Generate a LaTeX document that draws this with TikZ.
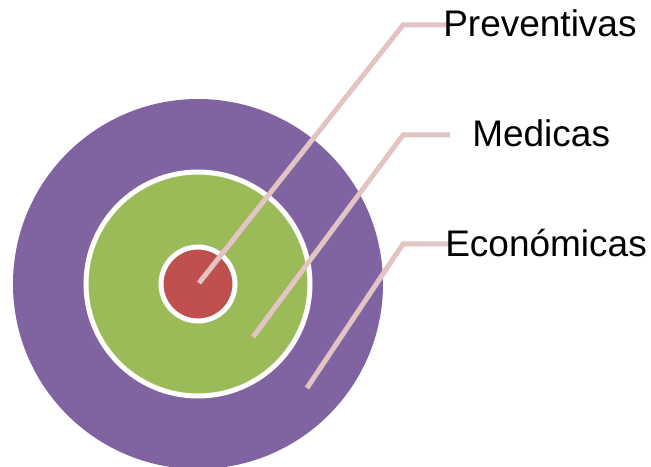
\documentclass[tikz,border=0pt]{standalone}
\usepackage{fontspec}
\setmainfont{Liberation Sans}
\definecolor{ringpurple}{RGB}{128,100,162}
\definecolor{ringgreen}{RGB}{155,187,89}
\definecolor{ringred}{RGB}{192,80,77}
\definecolor{leadpink}{RGB}{226,196,196}

\begin{document}
\begin{tikzpicture}[x=0.75pt, y=-0.75pt,
  ring/.style={circle, inner sep=0pt, draw=white, line width=3.75pt},
  leader/.style={draw=leadpink, line width=3.75pt},
  ringlabel/.style={anchor=base west, inner sep=0pt, font=\fontsize{27.75}{33}\selectfont}]
  \useasboundingbox (0,0) rectangle (651,467);
  \node[ring, fill=ringpurple, draw=none, minimum size=277.5pt] (outer) at (198,284) {};
  \node[ring, fill=ringgreen, minimum size=168pt] (middle) at (198,284) {};
  \node[ring, fill=ringred, minimum size=55.5pt] (inner) at (198,284) {};
  \foreach \n/\t/\sx/\sy/\ky/\tx/\by in {prev/Preventivas/199/283/25/443/37,
      med/Medicas/253/337/135/472/147, eco/Económicas/307/388/244/445/257} {
    \coordinate (\n-start) at (\sx,\sy);
    \coordinate (\n-knee) at (403,\ky);
    \coordinate (\n-end) at (450,\ky);
    \draw[leader] (\n-start) -- (\n-knee) -- (\n-end);
    \node[ringlabel] (\n) at (\tx,\by) {\t};
  }
\end{tikzpicture}
\end{document}
